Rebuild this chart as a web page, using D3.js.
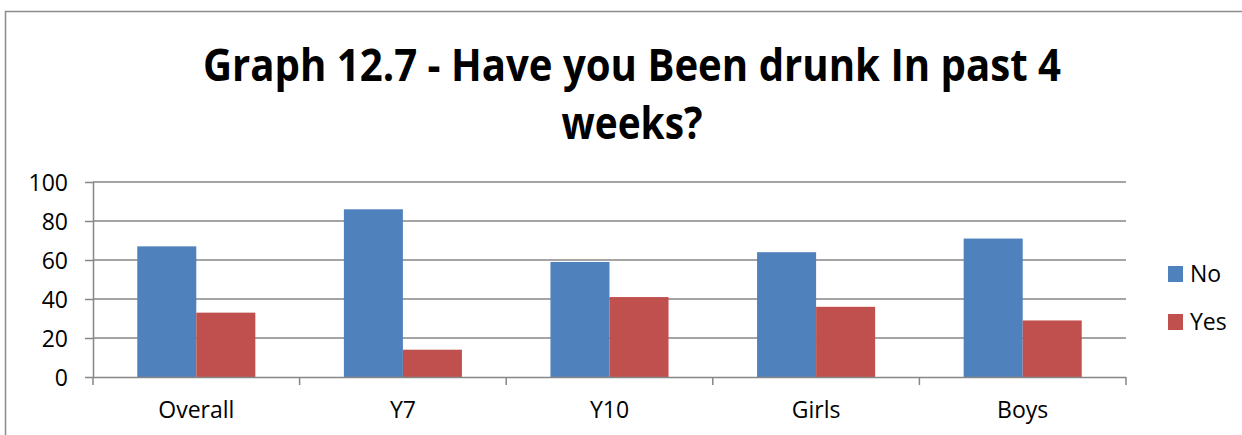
<!DOCTYPE html>
<html><head><meta charset="utf-8">
<script src="https://cdn.jsdelivr.net/npm/d3@7"></script>
<style>body{margin:0;background:#fff}svg{display:block}</style>
</head><body>
<svg id="c" width="1242" height="435"></svg>
<script>
const categories = ["Overall", "Y7", "Y10", "Girls", "Boys"];
const seriesNames = ["No", "Yes"];
const noValues = [67, 86, 59, 64, 71];
const yesValues = [33, 14, 41, 36, 29];
const yTicks = [0, 20, 40, 60, 80, 100];
const titleLines = ["Graph 12.7 - Have you Been drunk In past 4", "weeks?"];
const colors = ["#4F81BD", "#C0504D"];

const svg = d3.select("#c");
const font = "'Open Sans', sans-serif";
const grid = "#868686";

// outer frame
svg.append("rect").attr("x", 5.5).attr("y", 11.5).attr("width", 1300).attr("height", 500)
  .attr("fill", "none").attr("stroke", "#8c8c8c").attr("stroke-width", 1.5);

// title
titleLines.forEach((t, i) => {
  const el = svg.append("text").attr("x", 632).attr("y", 81 + i * 58)
    .attr("text-anchor", "middle").attr("font-family", font).attr("font-weight", "bold")
    .attr("font-size", 45).attr("fill", "#000").text(t);
  el.attr("textLength", i === 0 ? 858 : 141).attr("lengthAdjust", "spacingAndGlyphs");
});

const x0 = d3.scaleBand().domain(categories).range([93, 1126]).paddingInner(1.5/3.5).paddingOuter(0.75/3.5);
const xStep = d3.scaleBand().domain(categories).range([93, 1126]).padding(0);
const x1 = d3.scaleBand().domain(seriesNames).range([0, x0.bandwidth()]);
const y = d3.scaleLinear().domain([0, 100]).range([377, 182]);

// gridlines
svg.append("g").selectAll("line").data(yTicks.filter(d => d > 0)).join("line")
  .attr("x1", 93).attr("x2", 1126).attr("y1", d => y(d)).attr("y2", d => y(d))
  .attr("stroke", grid).attr("stroke-width", 1.5);

// bars
const data = categories.map((c, i) => ({c, vals: [noValues[i], yesValues[i]]}));
const g = svg.append("g");
data.forEach(d => {
  d.vals.forEach((v, j) => {
    g.append("rect").attr("x", x0(d.c) + x1(seriesNames[j])).attr("y", y(v))
      .attr("width", x1.bandwidth()).attr("height", y(0) - y(v))
      .attr("fill", colors[j]);
  });
});

// y axis
const yAxis = svg.append("g").attr("transform", "translate(93,0)")
  .call(d3.axisLeft(y).tickValues(yTicks).tickSize(8).tickPadding(17).tickFormat(d3.format("d")));
yAxis.select(".domain").attr("stroke", grid).attr("stroke-width", 1.5).attr("d", `M0.5,${y(100)}V${y(0)}`);
yAxis.selectAll(".tick line").attr("stroke", grid).attr("stroke-width", 1.5);
yAxis.selectAll("text").attr("font-family", font).attr("font-size", 23).attr("fill", "#000").attr("dy", "0.35em");

// x axis
const xAxis = svg.append("g").attr("transform", `translate(0,${y(0)})`)
  .call(d3.axisBottom(xStep).tickSize(0).tickPadding(25));
xAxis.select(".domain").attr("stroke", grid).attr("stroke-width", 1.5).attr("d", `M93,0.5H1126`);
xAxis.selectAll("text").attr("font-family", font).attr("font-size", 23).attr("fill", "#000");
const bounds = categories.map(c => xStep(c)).concat([1126]);
xAxis.selectAll(".bnd").data(bounds).join("line").attr("class", "bnd")
  .attr("x1", d => d).attr("x2", d => d).attr("y1", 0).attr("y2", 8)
  .attr("stroke", grid).attr("stroke-width", 1.5);

// legend
const leg = svg.append("g");
seriesNames.forEach((s, i) => {
  leg.append("rect").attr("x", 1168).attr("y", 266 + i * 48).attr("width", 15).attr("height", 16).attr("fill", colors[i]);
  leg.append("text").attr("x", 1190).attr("y", 274 + i * 48).attr("dy", "0.36em")
    .attr("font-family", font).attr("font-size", 23).attr("fill", "#000").text(s);
});
</script>
</body></html>
